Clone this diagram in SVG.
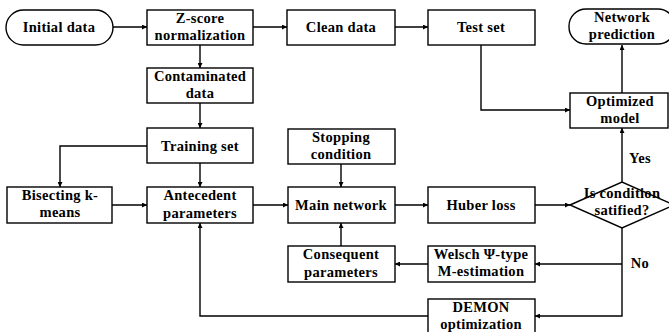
<svg xmlns="http://www.w3.org/2000/svg" width="669" height="332" viewBox="0 0 669 332">
<style>
.b{fill:#fff;stroke:#000;stroke-width:1.4}
.t{font-family:"Liberation Serif","Times New Roman",serif;font-weight:bold;font-size:14.5px;text-anchor:middle;fill:#000;letter-spacing:0.3px}
.c{fill:none;stroke:#000;stroke-width:1.4}
</style>
<defs>
<marker id="a" viewBox="0 0 10 10" refX="10" refY="5" markerWidth="7" markerHeight="5" orient="auto" markerUnits="userSpaceOnUse"><path d="M0,0 L10,5 L0,10 z" fill="#000"/></marker>
</defs>
<rect width="669" height="332" fill="#fff"/>
<g id="connectors">
<path class="c" d="M113,27 H147" marker-end="url(#a)"/>
<path class="c" d="M253,27 H287" marker-end="url(#a)"/>
<path class="c" d="M395,27 H428" marker-end="url(#a)"/>
<path class="c" d="M200,45 V68" marker-end="url(#a)"/>
<path class="c" d="M200,103 V128" marker-end="url(#a)"/>
<path class="c" d="M481,45 V110 H570" marker-end="url(#a)"/>
<path class="c" d="M622,93 V45" marker-end="url(#a)"/>
<path class="c" d="M147,146 H60 V187" marker-end="url(#a)"/>
<path class="c" d="M200,163 V187" marker-end="url(#a)"/>
<path class="c" d="M112,205 H147" marker-end="url(#a)"/>
<path class="c" d="M253,205 H288" marker-end="url(#a)"/>
<path class="c" d="M341,164 V187" marker-end="url(#a)"/>
<path class="c" d="M341,246 V223" marker-end="url(#a)"/>
<path class="c" d="M395,205 H428" marker-end="url(#a)"/>
<path class="c" d="M535,205 H570" marker-end="url(#a)"/>
<path class="c" d="M622,182 V128" marker-end="url(#a)"/>
<path class="c" d="M622,228 V316 H535" marker-end="url(#a)"/>
<path class="c" d="M622,264 H535" marker-end="url(#a)"/>
<path class="c" d="M428,264 H395" marker-end="url(#a)"/>
<path class="c" d="M428,316 H200 V223" marker-end="url(#a)"/>
</g>
<g id="initial"><rect class="b" x="6" y="10" width="107" height="35" rx="17.5"/><text class="t" x="59" y="32">Initial data</text></g>
<g id="zscore"><rect class="b" x="147" y="10" width="106" height="35"/><text class="t" x="200" y="23">Z-score</text><text class="t" x="200" y="40">normalization</text></g>
<g id="clean"><rect class="b" x="287" y="10" width="108" height="35"/><text class="t" x="341" y="32">Clean data</text></g>
<g id="test"><rect class="b" x="428" y="10" width="107" height="35"/><text class="t" x="481" y="32">Test set</text></g>
<g id="netpred"><rect class="b" x="569" y="9" width="106" height="35" rx="17"/><text class="t" x="622" y="22">Network</text><text class="t" x="622" y="39">prediction</text></g>
<g id="contam"><rect class="b" x="147" y="68" width="106" height="35"/><text class="t" x="200" y="81">Contaminated</text><text class="t" x="200" y="98">data</text></g>
<g id="optimized"><rect class="b" x="570" y="93" width="98" height="35"/><text class="t" x="620" y="106">Optimized</text><text class="t" x="620" y="123">model</text></g>
<g id="training"><rect class="b" x="147" y="128" width="106" height="35"/><text class="t" x="200" y="151">Training set</text></g>
<g id="stopping"><rect class="b" x="288" y="129" width="107" height="35"/><text class="t" x="341" y="142">Stopping</text><text class="t" x="341" y="159">condition</text></g>
<g id="bisecting"><rect class="b" x="7" y="187" width="105" height="36"/><text class="t" x="60" y="200">Bisecting k-</text><text class="t" x="60" y="217">means</text></g>
<g id="antecedent"><rect class="b" x="147" y="187" width="106" height="36"/><text class="t" x="200" y="200">Antecedent</text><text class="t" x="200" y="218">parameters</text></g>
<g id="main"><rect class="b" x="288" y="187" width="107" height="36"/><text class="t" x="341" y="210">Main network</text></g>
<g id="huber"><rect class="b" x="428" y="187" width="107" height="36"/><text class="t" x="481" y="210">Huber loss</text></g>
<g id="decision"><polygon class="b" points="570,205 622,182 674,205 622,228"/><text class="t" x="622" y="198">Is condition</text><text class="t" x="622" y="215">satified?</text></g>
<g id="consequent"><rect class="b" x="288" y="246" width="107" height="36"/><text class="t" x="341" y="259">Consequent</text><text class="t" x="341" y="277">parameters</text></g>
<g id="welsch"><rect class="b" x="428" y="246" width="107" height="36"/><text class="t" x="481" y="259">Welsch Ψ-type</text><text class="t" x="481" y="276">M-estimation</text></g>
<g id="demon"><rect class="b" x="428" y="299" width="107" height="36"/><text class="t" x="481" y="312">DEMON</text><text class="t" x="481" y="329">optimization</text></g>
<g id="labels"><text class="t" x="640" y="163">Yes</text><text class="t" x="640" y="268">No</text></g>
</svg>
